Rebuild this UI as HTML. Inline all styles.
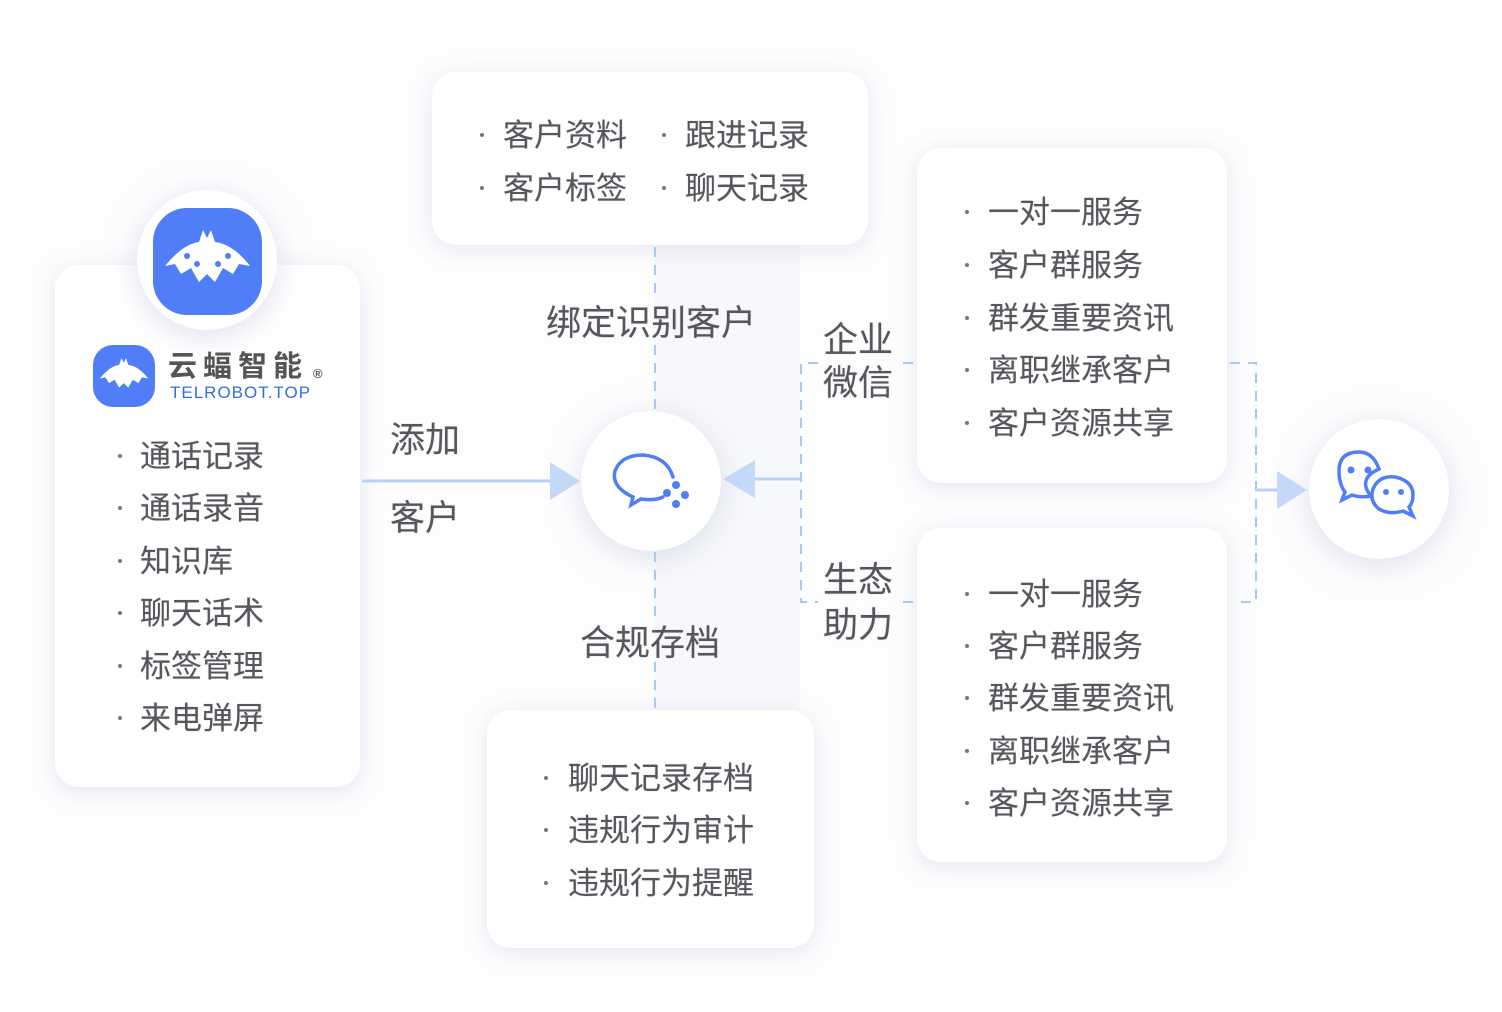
<!DOCTYPE html>
<html><head><meta charset="utf-8"><style>
html,body{margin:0;padding:0;}
body{width:1502px;height:1012px;position:relative;background:#fff;overflow:hidden;font-family:"Liberation Sans","Noto Sans CJK SC",sans-serif;color:#55575c;}
.card{position:absolute;background:#fff;border-radius:24px;box-shadow:0 4px 22px rgba(200,205,225,.45);}
.t{position:absolute;font-size:31px;line-height:31px;white-space:nowrap;text-shadow:0 0 1px rgba(80,80,90,.4);}
.b{position:absolute;width:4px;height:4px;border-radius:2px;background:#777;}
.circ{position:absolute;border-radius:50%;background:#fff;box-shadow:0 6px 30px rgba(200,205,225,.6);}
.lbl{position:absolute;font-size:35px;line-height:35px;white-space:nowrap;color:#55575c;text-shadow:0 0 1px rgba(80,80,90,.4);}
</style></head><body>
<div style="position:absolute;left:0;top:0;width:1502px;height:1012px;background:#fdfdfe;"></div>
<div style="position:absolute;left:655px;top:245px;width:145px;height:465px;background:#f7f8fb;"></div>

<!-- left card -->
<div class="card" style="left:55px;top:265px;width:305px;height:522px;"></div>
<div class="circ" style="left:137px;top:190px;width:140px;height:140px;"></div>
<div style="position:absolute;left:153px;top:208px;width:109px;height:107px;border-radius:34px;background:#4f7ef8;"></div>
<svg style="position:absolute;left:153px;top:208px" width="109" height="107" viewBox="0 0 109 107">
<path d="M12 58 Q30 36 46 34 L50 22 L54 30 L58 22 L62 34 Q80 36 97 58 L86 56 L80 66 L70 60 L62 74 L54 66 L46 74 L38 60 L28 66 L22 56 Z" fill="#fff"/>
<g fill="#4f7ef8"><circle cx="34" cy="48" r="3"/><circle cx="75" cy="48" r="3"/><circle cx="44" cy="56" r="3"/><circle cx="65" cy="56" r="3"/></g></svg>
<div style="position:absolute;left:93px;top:345px;width:62px;height:62px;border-radius:20px;background:#4f7ef8;"></div>
<svg style="position:absolute;left:93px;top:345px" width="62" height="62" viewBox="0 0 109 107">
<path d="M12 58 Q30 36 46 34 L50 22 L54 30 L58 22 L62 34 Q80 36 97 58 L86 56 L80 66 L70 60 L62 74 L54 66 L46 74 L38 60 L28 66 L22 56 Z" fill="#fff"/></svg>
<div style="position:absolute;left:168px;top:352px;font-size:29px;line-height:30px;font-weight:bold;color:#555;letter-spacing:6px;">云蝠智能</div>
<div style="position:absolute;left:313px;top:366px;font-size:13px;color:#555;font-weight:bold;">®</div>
<div style="position:absolute;left:170px;top:384px;font-size:17px;line-height:18px;color:#2f6fe0;letter-spacing:1px;">TELROBOT.TOP</div>
<div class="b" style="left:118px;top:454px"></div><div class="t" style="left:140px;top:441px">通话记录</div>
<div class="b" style="left:118px;top:506px"></div><div class="t" style="left:140px;top:493px">通话录音</div>
<div class="b" style="left:118px;top:559px"></div><div class="t" style="left:140px;top:546px">知识库</div>
<div class="b" style="left:118px;top:611px"></div><div class="t" style="left:140px;top:598px">聊天话术</div>
<div class="b" style="left:118px;top:664px"></div><div class="t" style="left:140px;top:651px">标签管理</div>
<div class="b" style="left:118px;top:716px"></div><div class="t" style="left:140px;top:703px">来电弹屏</div>

<!-- top card -->
<div class="card" style="left:432px;top:72px;width:436px;height:173px;"></div>
<div class="b" style="left:480px;top:133px"></div><div class="t" style="left:503px;top:120px">客户资料</div>
<div class="b" style="left:662px;top:133px"></div><div class="t" style="left:685px;top:120px">跟进记录</div>
<div class="b" style="left:480px;top:186px"></div><div class="t" style="left:503px;top:173px">客户标签</div>
<div class="b" style="left:662px;top:186px"></div><div class="t" style="left:685px;top:173px">聊天记录</div>

<!-- bottom card -->
<div class="card" style="left:487px;top:710px;width:327px;height:238px;"></div>
<div class="b" style="left:544px;top:776px"></div><div class="t" style="left:568px;top:763px">聊天记录存档</div>
<div class="b" style="left:544px;top:828px"></div><div class="t" style="left:568px;top:815px">违规行为审计</div>
<div class="b" style="left:544px;top:881px"></div><div class="t" style="left:568px;top:868px">违规行为提醒</div>

<!-- right cards -->
<div class="card" style="left:917px;top:148px;width:310px;height:335px;"></div>
<div class="card" style="left:917px;top:528px;width:310px;height:334px;"></div>
<div class="b" style="left:965px;top:210px"></div><div class="t" style="left:988px;top:197px">一对一服务</div>
<div class="b" style="left:965px;top:263px"></div><div class="t" style="left:988px;top:250px">客户群服务</div>
<div class="b" style="left:965px;top:316px"></div><div class="t" style="left:988px;top:303px">群发重要资讯</div>
<div class="b" style="left:965px;top:368px"></div><div class="t" style="left:988px;top:355px">离职继承客户</div>
<div class="b" style="left:965px;top:421px"></div><div class="t" style="left:988px;top:408px">客户资源共享</div>
<div class="b" style="left:965px;top:592px"></div><div class="t" style="left:988px;top:579px">一对一服务</div>
<div class="b" style="left:965px;top:644px"></div><div class="t" style="left:988px;top:631px">客户群服务</div>
<div class="b" style="left:965px;top:696px"></div><div class="t" style="left:988px;top:683px">群发重要资讯</div>
<div class="b" style="left:965px;top:749px"></div><div class="t" style="left:988px;top:736px">离职继承客户</div>
<div class="b" style="left:965px;top:801px"></div><div class="t" style="left:988px;top:788px">客户资源共享</div>

<!-- lines -->
<svg style="position:absolute;left:0;top:0" width="1502" height="1012">
<g stroke="#a9c8f5" stroke-width="2" fill="none" stroke-dasharray="10 8">
<line x1="655" y1="247" x2="655" y2="300"/>
<line x1="655" y1="345" x2="655" y2="410"/>
<line x1="655" y1="552" x2="655" y2="620"/>
<line x1="655" y1="662" x2="655" y2="708"/>
<polyline points="818,363 801,363 801,602 818,602"/>
<line x1="903" y1="363" x2="915" y2="363"/>
<line x1="903" y1="602" x2="915" y2="602"/>
<polyline points="1230,363 1256,363 1256,602 1236,602"/>
</g>
<g stroke="#b6d2f8" stroke-width="3">
<line x1="362" y1="481" x2="555" y2="481"/>
<line x1="752" y1="479" x2="801" y2="479"/>
<line x1="1256" y1="490" x2="1280" y2="490"/>
</g>
<g fill="#c4dafa">
<polygon points="550,462 580,481 550,500"/>
<polygon points="755,460 723,479 755,498"/>
<polygon points="1277,471 1307,490 1277,509"/>
</g>
</svg>

<div class="lbl" style="left:546px;top:306px">绑定识别客户</div>
<div class="lbl" style="left:580px;top:626px">合规存档</div>
<div class="lbl" style="left:390px;top:423px">添加</div>
<div class="lbl" style="left:390px;top:501px">客户</div>
<div class="lbl" style="left:823px;top:323px">企业</div>
<div class="lbl" style="left:823px;top:366px">微信</div>
<div class="lbl" style="left:823px;top:563px">生态</div>
<div class="lbl" style="left:823px;top:608px">助力</div>

<!-- center circle -->
<div class="circ" style="left:581px;top:411px;width:140px;height:140px;"></div>
<svg style="position:absolute;left:581px;top:411px" width="140" height="140">
<path d="M52 86 L50 94 L60 88 Q74 90 82 86" stroke="#4f7ef8" stroke-width="3.5" fill="none" stroke-linecap="round"/>
<path d="M52 86 Q30 76 34 60 Q40 44 62 44 Q86 46 92 66" stroke="#4f7ef8" stroke-width="3.5" fill="none" stroke-linecap="round"/>
<g fill="#4f7ef8"><circle cx="95" cy="74" r="4"/><circle cx="86" cy="82" r="4"/><circle cx="104" cy="84" r="4"/><circle cx="95" cy="93" r="4"/></g>
</svg>

<!-- wechat circle -->
<div class="circ" style="left:1309px;top:419px;width:140px;height:140px;"></div>
<svg style="position:absolute;left:1309px;top:419px" width="140" height="140">
<g stroke="#4f7ef8" stroke-width="3.5" fill="#fff">
<path d="M36 73 L33 81 L43 76 Q52 79 62 77 Q48 60 70 50 Q64 33 50 33 Q30 33 30 52 Q30 65 36 73 Z"/>
<path d="M100 88 L104 97 L94 92 Q80 96 70 90 Q60 82 64 70 Q70 56 86 58 Q104 62 104 76 Q104 84 100 88 Z"/>
</g>
<g fill="#4f7ef8"><circle cx="42" cy="51" r="3.5"/><circle cx="59" cy="51" r="3.5"/><circle cx="77" cy="73" r="3"/><circle cx="92" cy="73" r="3"/></g>
</svg>
</body></html>
